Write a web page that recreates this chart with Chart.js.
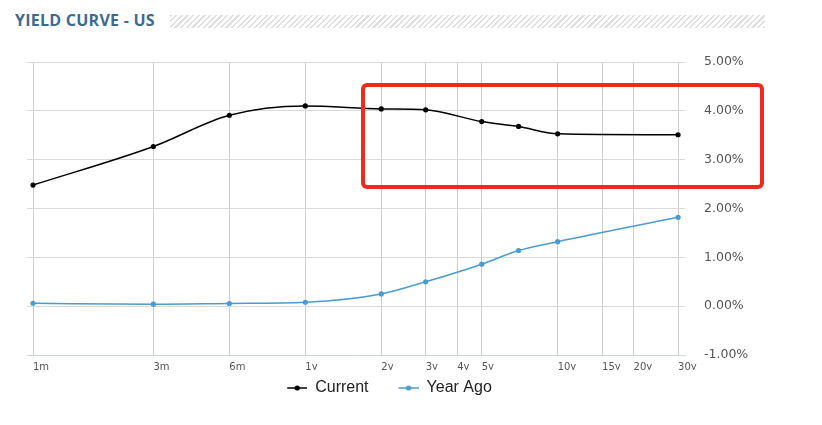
<!DOCTYPE html>
<html>
<head>
<meta charset="utf-8">
<script src="https://cdn.jsdelivr.net/npm/chart.js@4/dist/chart.umd.min.js"></script>
<style>
  html, body { margin: 0; padding: 0; background: #fff; }
  #wrap { position: relative; width: 822px; height: 425px; overflow: hidden; }
  #title { position: absolute; left: 15px; top: 9px; font: bold 16px "Open Sans", sans-serif; color: #3a6b97; letter-spacing: 0.25px; white-space: nowrap; }
  #hatch { position: absolute; left: 170px; top: 15px; width: 595px; height: 13px;
    background: repeating-linear-gradient(135deg, #dedede 0px, #dedede 1.5px, #ffffff 1.5px, #ffffff 4px); }
  #box { position: absolute; left: 361px; top: 83px; width: 403px; height: 106px; box-sizing: border-box;
    border: 4px solid #f2291d; border-radius: 6px; z-index: 5; }
  canvas { position: absolute; left: 0; top: 0; }
</style>
</head>
<body>
<div id="wrap">
  <div id="title">YIELD CURVE - US</div>
  <div id="hatch"></div>
  <canvas id="c" width="822" height="425"></canvas>
  <div id="box"></div>
</div>
<script>
// ---- data ----
const termMonths = [1, 3, 6, 12, 24, 36, 60, 84, 120, 360];
const currentYield = [2.48, 3.27, 3.91, 4.10, 4.04, 4.02, 3.78, 3.68, 3.53, 3.51];
const yearAgoYield = [0.06, 0.04, 0.055, 0.08, 0.25, 0.50, 0.86, 1.14, 1.32, 1.82];
const tickMonths = [1, 3, 6, 12, 24, 36, 48, 60, 120, 180, 240, 360];
const tickLabels = ['1m', '3m', '6m', '1y', '2y', '3y', '4y', '5y', '10y', '15y', '20y', '30y'];
const seriesNames = ['Current', 'Year Ago'];
const seriesColors = ['#000000', '#4a9bd3'];

function legendIcon(color) {
  const c = document.createElement('canvas');
  c.width = 40; c.height = 10;
  const g = c.getContext('2d');
  g.strokeStyle = color; g.lineWidth = 1.5;
  g.beginPath(); g.moveTo(20, 5); g.lineTo(40, 5); g.stroke();
  g.fillStyle = color;
  g.beginPath(); g.arc(30, 5, 2.6, 0, Math.PI * 2); g.fill();
  return c;
}
const icons = seriesColors.map(legendIcon);

function ds(name, values, color) {
  return {
    label: name,
    data: termMonths.map((m, i) => ({ x: m, y: values[i] })),
    borderColor: color,
    backgroundColor: color,
    borderWidth: 1.5,
    pointRadius: 2.6,
    pointBorderWidth: 0,
    pointBackgroundColor: color,
    cubicInterpolationMode: 'monotone',
    fill: false,
    yAxisID: 'y'
  };
}

new Chart(document.getElementById('c'), {
  type: 'line',
  data: {
    datasets: [
      ds(seriesNames[0], currentYield, seriesColors[0]),
      ds(seriesNames[1], yearAgoYield, seriesColors[1])
    ]
  },
  options: {
    responsive: false,
    devicePixelRatio: 1,
    animation: false,
    layout: { padding: { top: 62, left: 7, right: 70, bottom: 19 } },
    plugins: {
      tooltip: { enabled: false },
      legend: {
        position: 'bottom',
        labels: {
          usePointStyle: true,
          pointStyleWidth: 40,
          padding: 10,
          color: '#222',
          font: { family: '"Liberation Sans", Arial, sans-serif', size: 16 },
          generateLabels(chart) {
            const items = Chart.defaults.plugins.legend.labels.generateLabels(chart);
            items.forEach((it, i) => { it.pointStyle = icons[i]; });
            return items;
          }
        }
      }
    },
    scales: {
      x: {
        type: 'logarithmic',
        min: 0.9467,
        max: 383.6,
        afterBuildTicks(scale) { scale.ticks = tickMonths.map(v => ({ value: v })); },
        afterFit(scale) { scale.height = 15; },
        grid: { color: '#cdcdcd', lineWidth: 1, drawTicks: false },
        border: { display: true, color: '#ccd6eb', width: 1 },
        ticks: {
          autoSkip: false, maxRotation: 0, minRotation: 0, align: 'start', padding: 6,
          color: '#555', font: { family: '"DejaVu Sans", sans-serif', size: 10 },
          callback(v) { const i = tickMonths.indexOf(v); return i >= 0 ? tickLabels[i] : ''; }
        }
      },
      y: {
        position: 'right',
        min: -1, max: 5,
        afterFit(scale) { scale.width = 67; },
        grid: { color: '#dadada', lineWidth: 1, drawTicks: false },
        border: { display: false },
        ticks: {
          stepSize: 1, padding: 19, color: '#555',
          font: { family: '"DejaVu Sans", sans-serif', size: 12.5 },
          callback(v) { return v.toFixed(2) + '%'; }
        }
      },
      ySpacer: {
        axis: 'y',
        position: 'left',
        afterFit(scale) { scale.width = 20; },
        grid: { display: false, drawTicks: false },
        border: { display: false },
        ticks: { display: false }
      }
    }
  }
});
</script>
</body>
</html>
